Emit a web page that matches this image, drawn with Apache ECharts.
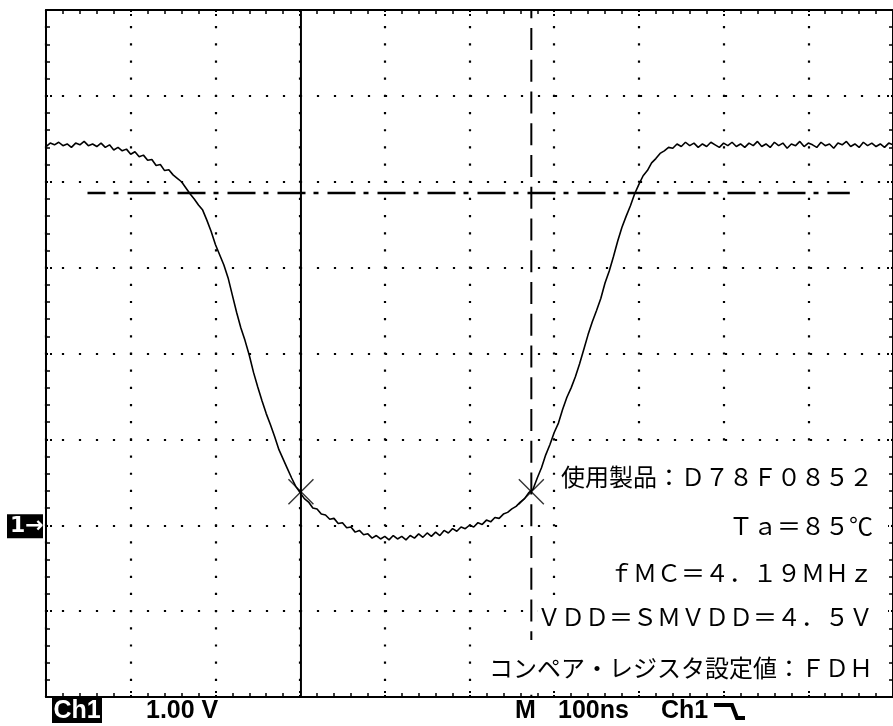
<!DOCTYPE html>
<html><head><meta charset="utf-8">
<script src="https://cdn.jsdelivr.net/npm/echarts@6/dist/echarts.min.js"></script>
<style>html,body{margin:0;padding:0;background:#fff}#c{width:893px;height:726px}</style>
</head><body><div id="c"></div>
<script>
// ---- data (time in ns, voltage in V) ----
const TIME_START = 0;
const TIME_STEP = 5;
const voltage = [
  4.41,4.45,4.43,4.46,4.42,4.44,4.40,4.45,4.43,4.47,4.42,4.44,4.41,4.45,4.40,4.43,4.37,4.40,4.36,4.38,
  4.32,4.35,4.29,4.31,4.25,4.26,4.19,4.20,4.13,4.14,4.08,4.04,4.00,3.93,3.86,3.80,3.73,3.67,3.55,3.42,
  3.27,3.15,3.03,2.88,2.68,2.48,2.30,2.15,1.98,1.78,1.61,1.45,1.30,1.17,1.03,0.88,0.77,0.66,0.55,0.45,
  0.38,0.31,0.27,0.20,0.19,0.13,0.12,0.07,0.08,0.02,0.03,-0.03,-0.02,-0.08,-0.06,-0.11,-0.10,-0.15,-0.12,-0.16,
  -0.13,-0.17,-0.12,-0.16,-0.13,-0.17,-0.12,-0.15,-0.10,-0.14,-0.09,-0.13,-0.08,-0.12,-0.06,-0.09,-0.04,-0.07,-0.02,-0.04,
  0.00,-0.02,0.03,0.01,0.06,0.04,0.09,0.08,0.13,0.15,0.19,0.22,0.27,0.31,0.38,0.42,0.55,0.67,0.82,0.94,
  1.08,1.19,1.35,1.49,1.60,1.73,1.88,2.05,2.22,2.37,2.50,2.64,2.82,2.96,3.13,3.31,3.47,3.60,3.72,3.86,
  3.97,4.07,4.13,4.22,4.27,4.33,4.36,4.40,4.39,4.44,4.41,4.46,4.42,4.45,4.40,4.44,4.41,4.46,4.43,4.40,
  4.45,4.42,4.46,4.41,4.44,4.40,4.45,4.42,4.47,4.41,4.44,4.40,4.46,4.42,4.45,4.39,4.44,4.42,4.47,4.41,
  4.45,4.43,4.40,4.46,4.42,4.44,4.39,4.45,4.43,4.47,4.41,4.44,4.40,4.46,4.42,4.45,4.41,4.44,4.40,4.45,
  4.43
];
const timeRange = [0, 1000];      // 10 div x 100 ns
const timeDiv = 100;
const voltRange = [-2, 6];        // 8 div x 1 V
const voltDiv = 1;
const cursorTimeSolid = 301;
const cursorTimeDashed = 573;
const cursorLevel = 3.87;
const cursorLevelSpan = [49, 949];
const crossPoints = [[301, 0.39], [573, 0.39]];
const groundLevel = 0;
const annotations = [
  '使用製品：Ｄ７８Ｆ０８５２',
  'Ｔａ＝８５℃',
  'ｆＭＣ＝４．１９ＭＨｚ',
  'ＶＤＤ＝ＳＭＶＤＤ＝４．５Ｖ',
  'コンペア・レジスタ設定値：ＦＤＨ'
];
const chLabel = 'Ch1';
const voltsLabel = '1.00 V';
const modeLabel = 'M';
const timeLabel = '100ns';
const trigLabel = 'Ch1';
const groundLabel = '1→';

// ---- chart ----
const chart = echarts.init(document.getElementById('c'), null, {renderer: 'canvas'});
const waveform = voltage.map((v, i) => [TIME_START + i * TIME_STEP, v]);

const axisBase = {
  axisLine: {show: true, onZero: false, lineStyle: {color: '#000', width: 2}},
  axisTick: {show: true, inside: true, length: 7, lineStyle: {color: '#000', width: 2, type: [2, 2]}},
  minorTick: {show: true, splitNumber: 5, length: 4, lineStyle: {color: '#000', width: 1.5}},
  axisLabel: {show: false}
};

const mono = '"Liberation Sans", Arial, sans-serif';
const jp = '"Noto Sans CJK JP", sans-serif';

const rowY = [477, 526, 573, 617, 668];
const graphics = [
  {type: 'rect', z: 10, shape: {x: 558, y: 455, width: 330, height: 140}, style: {fill: '#fff'}},
  {type: 'rect', z: 10, shape: {x: 538, y: 595, width: 350, height: 45}, style: {fill: '#fff'}},
  {type: 'rect', z: 10, shape: {x: 488, y: 640, width: 400, height: 48}, style: {fill: '#fff'}}
];
annotations.forEach((t, i) => {
  graphics.push({type: 'text', z: 11, style: {text: t, x: 873, y: rowY[i], align: 'right', textAlign: 'right',
    verticalAlign: 'middle', textVerticalAlign: 'middle', font: '24px ' + jp, fill: '#000'}});
});
// bottom status line
const stat = (text, x, color, align) => ({type: 'text', z: 11, style: {text: text, x: x, y: 711,
  align: align, textAlign: align, verticalAlign: 'middle', textVerticalAlign: 'middle',
  font: 'bold 25px ' + mono, fill: color}});
graphics.push(
  {type: 'rect', z: 10, shape: {x: 52, y: 698, width: 50, height: 25}, style: {fill: '#000'}},
  stat(chLabel, 77, '#fff', 'center'),
  stat(voltsLabel, 146, '#000', 'left'),
  stat(modeLabel, 515, '#000', 'left'),
  stat(timeLabel, 558, '#000', 'left'),
  stat(trigLabel, 661, '#000', 'left'),
  {type: 'polyline', z: 11, shape: {points: [[714, 705], [732, 705], [737, 718], [745, 718]]}, style: {stroke: '#000', lineWidth: 4, fill: null}}
);

const option = {
  animation: false,
  backgroundColor: '#fff',
  grid: {left: 46, top: 10, width: 851, height: 687, containLabel: false, show: false},
  xAxis: [
    Object.assign({type: 'value', min: timeRange[0], max: timeRange[1], interval: timeDiv, position: 'bottom',
      splitLine: {show: true, lineStyle: {color: '#000', width: 2.2, type: [2.2, 14.975], dashOffset: 1.1}}}, axisBase),
    Object.assign({type: 'value', min: timeRange[0], max: timeRange[1], interval: timeDiv, position: 'top',
      splitLine: {show: false}}, axisBase)
  ],
  yAxis: [
    Object.assign({type: 'value', min: voltRange[0], max: voltRange[1], interval: voltDiv, position: 'left',
      splitLine: {show: true, lineStyle: {color: '#000', width: 2.2, type: [2.2, 14.8], dashOffset: 1.1}}}, axisBase),
    Object.assign({type: 'value', min: voltRange[0], max: voltRange[1], interval: voltDiv, position: 'right',
      splitLine: {show: false}}, axisBase)
  ],
  series: [
    {type: 'line', name: 'cursorSolid', silent: true, symbol: 'none', z: 3,
      data: [[cursorTimeSolid, voltRange[1]], [cursorTimeSolid, voltRange[0]]],
      lineStyle: {color: '#000', width: 2}},
    {type: 'line', name: 'cursorDashed', silent: true, symbol: 'none', z: 3,
      data: [[cursorTimeDashed, voltRange[1]], [cursorTimeDashed, voltRange[0]]],
      lineStyle: {color: '#000', width: 2, type: [22, 9.75], dashOffset: 13.75}},
    {type: 'line', name: 'cursorLevel', silent: true, symbol: 'none', z: 3,
      data: [[cursorLevelSpan[0], cursorLevel], [cursorLevelSpan[1], cursorLevel]],
      lineStyle: {color: '#000', width: 2.5, type: [28, 8, 5, 9], dashOffset: 10}},
    {type: 'line', name: 'Ch1', silent: true, symbol: 'none', z: 4,
      data: waveform, lineStyle: {color: '#000', width: 1.6}},
    {type: 'scatter', name: 'cross', silent: true, z: 5,
      symbol: 'path://M0,0L20,20M20,0L0,20', symbolSize: 25,
      itemStyle: {color: 'rgba(0,0,0,0)', borderColor: '#000', borderWidth: 1.4},
      data: crossPoints}
  ],
  graphic: graphics
};
chart.setOption(option);

// ground marker tied to the 0 V level of the axis
const gy = chart.convertToPixel({yAxisIndex: 0}, groundLevel);
chart.setOption({graphic: graphics.concat([
  {type: 'rect', z: 10, shape: {x: 7, y: gy - 11, width: 36, height: 24}, style: {fill: '#000'}},
  {type: 'text', z: 11, style: {text: groundLabel, x: 10, y: gy + 1, align: 'left', textAlign: 'left', verticalAlign: 'middle', textVerticalAlign: 'middle', font: 'bold 22px "DejaVu Sans", "Liberation Sans", sans-serif', fill: '#fff'}}
])});
</script>
</body></html>
